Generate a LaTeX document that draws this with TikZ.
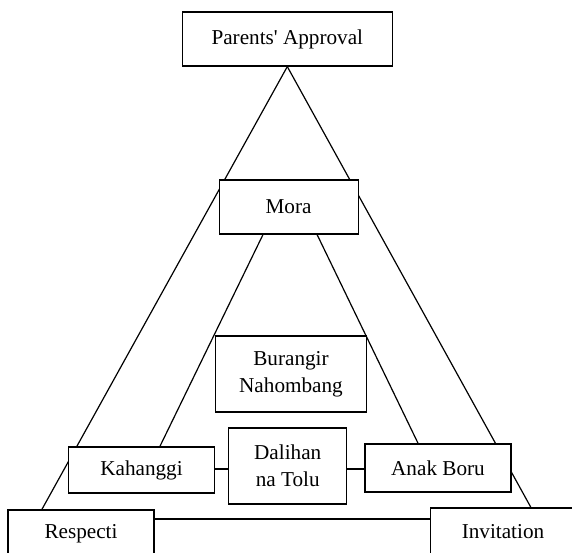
\documentclass[tikz,border=0pt]{standalone}
\usepackage{fontspec}
\setmainfont{Liberation Serif}
\usetikzlibrary{calc,backgrounds}

\begin{document}
\begin{tikzpicture}[x=0.75pt, y=-0.75pt, line width=0.9pt,
	box/.style={draw, fill=white, inner sep=0pt, align=center,
		font=\fontsize{15.9}{20.5}\selectfont},
	link/.style={draw, line width=0.9pt}]
	% frame setup
	
	\def\u{0.75pt}
	
	\useasboundingbox (0,0) rectangle (572,553);
	\clip (0,0) rectangle (572,553);
	
	% boxes
	\node[box, minimum width=210*\u, minimum height=54*\u] (approval) at (287.3, 39)  {Parents\textquotesingle{} Approval};
	\node[box, minimum width=139*\u, minimum height=54*\u] (mora)     at (288.6, 207) {Mora};
	\node[box, minimum width=151*\u, minimum height=76*\u] (burangir) at (291, 374)   {Burangir\\Nahombang};
	\node[box, minimum width=146*\u, minimum height=46*\u] (kahanggi) at (141.5, 470) {Kahanggi};
	\node[box, minimum width=118*\u, minimum height=76*\u] (dalihan)  at (287.7, 466) {Dalihan\\na Tolu};
	\node[box, minimum width=146*\u, minimum height=48*\u] (anakboru) at (438, 468)   {Anak Boru};
	\node[box, minimum width=146*\u, minimum height=48*\u] (respecti) at (81, 534)    {Respecti};
	\node[box, minimum width=145*\u, minimum height=48*\u] (invitation) at (503, 532) {Invitation};
	
	% connectors
	\draw[link] (kahanggi.east |- 0,469) -- (dalihan.west |- 0,469);
	\draw[link] (dalihan.east |- 0,469) -- (anakboru.west |- 0,469);
	\draw[link] (respecti.east |- 0,519) -- (invitation.west |- 0,519);
	
	\begin{scope}[on background layer]
		\draw[link] (approval.south) -- ($(respecti.north west)+(34.5,0)$);
		\draw[link] (approval.south) -- ($(invitation.north west)+(101,0)$);
		\draw[link] ($(mora.south west)+(44.5,0)$) -- ($(kahanggi.north west)+(92,0)$);
		\draw[link] ($(mora.south east)+(-41.6,0)$) -- ($(anakboru.north west)+(53.7,0)$);
	\end{scope}
\end{tikzpicture}
\end{document}
